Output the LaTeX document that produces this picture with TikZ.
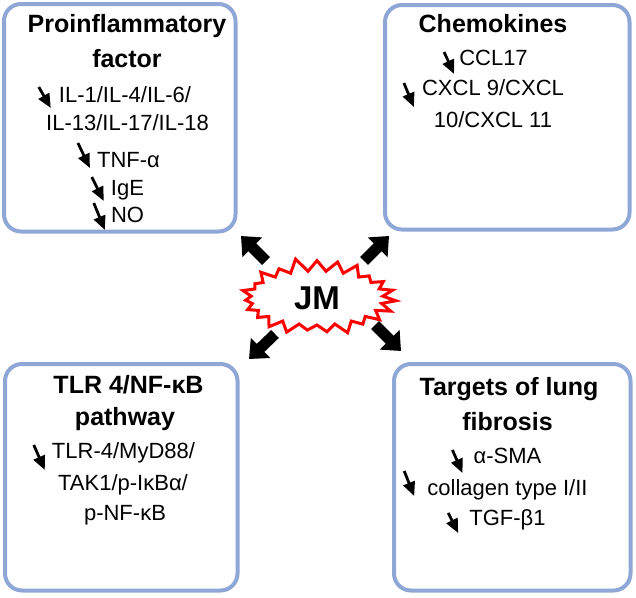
\documentclass[tikz,border=0pt]{standalone}
\usepackage{fontspec}
\setmainfont{Liberation Sans}
\usepackage{tikz}
\usetikzlibrary{arrows.meta,shapes.symbols,calc}

\definecolor{boxblue}{RGB}{143,167,214}

\tikzset{
  box/.style={draw=boxblue, line width=4pt, rounded corners=17pt},
  head/.style={font=\fontsize{25}{28}\selectfont\bfseries, inner sep=0pt, anchor=base},
  item/.style={font=\fontsize{22}{26}\selectfont, inner sep=0pt, anchor=base},
  dn/.style={line width=2.8pt, -{Triangle[length=14pt,width=12pt]}},
  fat/.style={line width=11pt, -{Triangle[length=16pt,width=27pt]}},
  burst/.style={starburst, draw=red, line width=3pt, fill=white,
    minimum width=160pt, minimum height=82pt, starburst points=23,
    starburst point height=14pt, random starburst=11,
    font=\fontsize{33}{35}\selectfont\bfseries}
}

\begin{document}
\begin{tikzpicture}[x=1pt, y=-1pt]
            \useasboundingbox (0,0) rectangle (636,597);

            % four boxes
            \draw[box] (4,4) rectangle (235.5,231.5);
            \draw[box] (385,5) rectangle (629.5,229.5);
            \draw[box] (5,364) rectangle (237.5,590.5);
            \draw[box] (394,364) rectangle (630.5,590.5);

            % proinflammatory factor
            \node[head] (pf1) at (127,32) {Proinflammatory};
            \node[head] (pf2) at (127,67) {factor};
            \node[item] (il1) at (125,102) {IL-1/IL-4/IL-6/};
            \node[item] (il2) at (127.5,130) {IL-13/IL-17/IL-18};
            \node[item] (tnf) at (128.5,167) {TNF-α};
            \node[item] (ige) at (127.5,195) {IgE};
            \node[item] (no) at (127.5,222) {NO};
            \draw[dn] ($(il1.base west)+(-20,-15)$) -- ($(il1.base west)+(-8,6)$);
            \draw[dn] ($(tnf.base west)+(-19,-24)$) -- ($(tnf.base west)+(-7,1)$);
            \draw[dn] ($(ige.base west)+(-19,-18)$) -- ($(ige.base west)+(-7,6)$);
            \draw[dn] ($(no.base west)+(-17,-19)$) -- ($(no.base west)+(-6,8)$);

            % chemokines
            \node[head] (ch1) at (493,32) {Chemokines};
            \node[item] (ccl) at (493.5,65) {CCL17};
            \node[item] (cx1) at (493,95) {CXCL 9/CXCL};
            \node[item] (cx2) at (493,127) {10/CXCL 11};
            \draw[dn] ($(ccl.base west)+(-15,-13)$) -- ($(ccl.base west)+(-5,9)$);
            \draw[dn] ($(cx1.base west)+(-18,-12)$) -- ($(cx1.base west)+(-8,12)$);

            % TLR 4/NF-kB pathway
            \node[head] (tl1) at (128.5,393) {TLR 4/NF-κB};
            \node[head] (tl2) at (125,425) {pathway};
            \node[item] (tlr) at (123.5,458) {TLR-4/MyD88/};
            \node[item] (tak) at (123,490) {TAK1/p-IκBα/};
            \node[item] (pnf) at (125,520) {p-NF-κB};
            \draw[dn] ($(tlr.base west)+(-18,-13)$) -- ($(tlr.base west)+(-7,12)$);

            % targets of lung fibrosis
            \node[head] (lf1) at (509,395) {Targets of lung};
            \node[head] (lf2) at (507.5,430) {fibrosis};
            \node[item] (sma) at (507.5,463) {α-SMA};
            \node[item] (col) at (507.5,495) {collagen type I/II};
            \node[item] (tgf) at (507.5,525) {TGF-β1};
            \draw[dn] ($(sma.base west)+(-21,-13)$) -- ($(sma.base west)+(-11,10)$);
            \draw[dn] ($(col.base west)+(-23,-24)$) -- ($(col.base west)+(-13,1)$);
            \draw[dn] ($(tgf.base west)+(-21,-12)$) -- ($(tgf.base west)+(-11,8)$);

            % JM and the four arrows
            \node[burst] (jm) at (317,298) {JM};
            \coordinate (tls) at (266,261);
            \coordinate (tle) at (241,236);
            \coordinate (trs) at (364,261);
            \coordinate (tre) at (389,236);
            \coordinate (bls) at (275,334);
            \coordinate (ble) at (249,359);
            \coordinate (brs) at (375,325);
            \coordinate (bre) at (401,351);
            \draw[fat] (tls) -- (tle);
            \draw[fat] (trs) -- (tre);
            \draw[fat] (bls) -- (ble);
            \draw[fat] (brs) -- (bre);
        \end{tikzpicture}
\end{document}
